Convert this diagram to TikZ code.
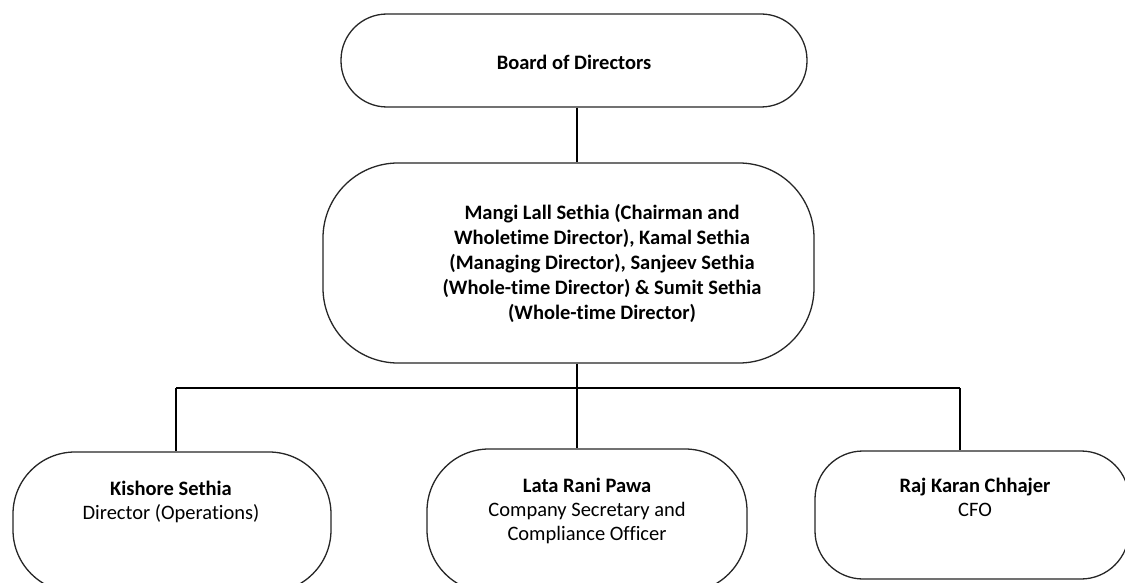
\documentclass[tikz,border=0pt]{standalone}
\usepackage{fontspec}
\setmainfont{Carlito}[Ligatures=NoCommon]
\usepackage{tikz}
\usetikzlibrary{positioning}

\begin{document}
\begin{tikzpicture}[
				x=1pt, y=-1pt,
				every node/.style={
					font=\fontsize{20.5}{24}\selectfont,
					inner sep=0pt
				},
				orgbox/.style={
					draw=black!85,
					line width=1.3pt,
					fill=white
				},
				link/.style={
					line width=2pt
				}
				]
				% Canvas
				\useasboundingbox (0,0) rectangle (1125,583);
				\clip (0,0) rectangle (1125,583);
				
				% Boxes
				\node[orgbox, rounded corners=46pt, minimum width=466pt, minimum height=93pt] (board) at (574,60.5) {};
				\node[orgbox, rounded corners=75pt, minimum width=491pt, minimum height=200pt] (mgmt) at (568.5,263) {};
				\node[orgbox, rounded corners=62pt, minimum width=318pt, minimum height=140pt] (kishore) at (172,522) {};
				\node[orgbox, rounded corners=62pt, minimum width=320pt, minimum height=143pt] (lata) at (587,520.5) {};
				\node[orgbox, rounded corners=48pt, minimum width=314pt, minimum height=128pt] (raj) at (972,515) {};
				
				% Texts
				\node (boardtxt) at (board.center) [yshift=-2pt] {\bfseries Board of Directors};
				\node[align=center, font=\fontsize{20.5}{25}\selectfont\bfseries] (mgmttxt) at (602,263) {Mangi Lall Sethia (Chairman and\\
					Wholetime Director), Kamal Sethia\\
					(Managing Director), Sanjeev Sethia\\
					(Whole-time Director) \& Sumit Sethia\\
					(Whole-time Director)};
				\node[align=center, anchor=north] (kishoretxt) at (171,481) {\bfseries Kishore Sethia\\ Director (Operations)};
				\node[align=center, anchor=north] (latatxt) at (587,478) {\bfseries Lata Rani Pawa\\ Company Secretary and\\ Compliance Officer};
				\node[align=center, anchor=north] (rajtxt) at (975,478) {\bfseries Raj Karan Chhajer\\ CFO};
				
				% Connectors
				\coordinate (bus) at (577,388);
				\coordinate (dropL) at (176,388);
				\coordinate (dropR) at (960,388);
				\draw[link] (bus |- board.south) -- (bus |- mgmt.north);
				\draw[link] (bus |- mgmt.south) -- (bus);
				\draw[link] (dropL) -- (dropR);
				\draw[link] (dropL) -- (dropL |- kishore.north);
				\draw[link] (bus) -- (bus |- lata.north);
				\draw[link] (dropR) -- (dropR |- raj.north);
			\end{tikzpicture}
\end{document}
